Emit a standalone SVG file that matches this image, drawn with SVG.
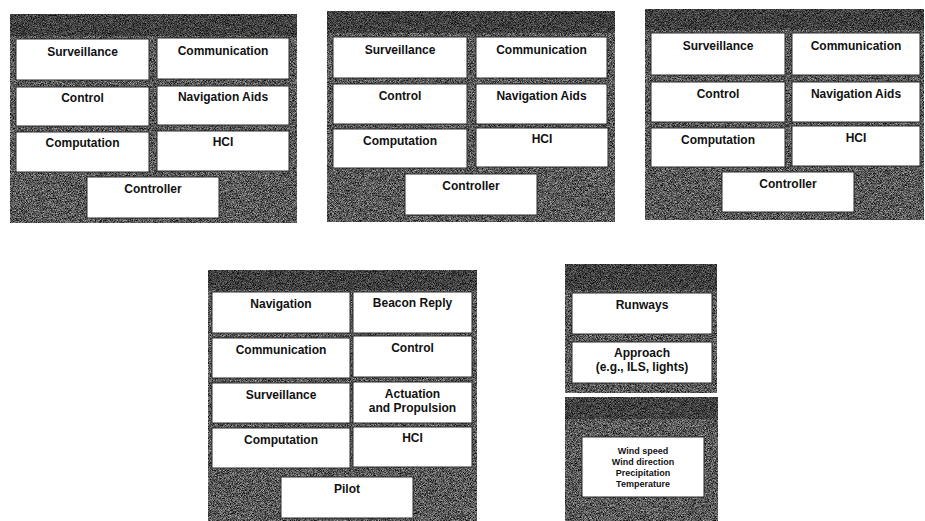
<svg xmlns="http://www.w3.org/2000/svg" width="925" height="521" viewBox="0 0 925 521">
  <defs>
    <!-- halftone-like grain for the grey panels -->
    <filter id="grain" x="0" y="0" width="100%" height="100%" color-interpolation-filters="sRGB">
      <feTurbulence type="fractalNoise" baseFrequency="1.4" numOctaves="1" seed="7" result="n"/>
      <feColorMatrix in="n" type="matrix" values="1.3 0 0 0 -0.3  1.3 0 0 0 -0.3  1.3 0 0 0 -0.3  0 0 0 0 1" result="g"/>
      <feComposite in="g" in2="SourceGraphic" operator="in"/>
    </filter>
    <style>
      .panel { fill: #555555; filter: url(#grain); }
      .band { fill: #000000; opacity: 0.28; }
      .cell { fill: #ffffff; stroke: #2a2a2a; stroke-width: 1; }
      .lbl { font-family: "Liberation Sans", Arial, sans-serif; font-weight: bold; font-size: 12px; fill: #111; text-anchor: middle; }
      .small { font-size: 9px; }
    </style>
  </defs>
  <rect width="925" height="521" fill="#ffffff"/>

  <!-- Ground station 1 -->
  <g id="station1">
    <rect class="panel" x="10" y="14" width="287" height="209"/>
    <rect class="band" x="10" y="14" width="287" height="22"/>
    <g id="s1-surveillance"><rect class="cell" x="16" y="39" width="133" height="41"/><text class="lbl" x="82.5" y="56">Surveillance</text></g>
    <g id="s1-communication"><rect class="cell" x="157" y="38" width="132" height="41"/><text class="lbl" x="223" y="55">Communication</text></g>
    <g id="s1-control"><rect class="cell" x="16" y="87" width="133" height="39"/><text class="lbl" x="82.5" y="102">Control</text></g>
    <g id="s1-navaids"><rect class="cell" x="157" y="86" width="132" height="39"/><text class="lbl" x="223" y="101">Navigation Aids</text></g>
    <g id="s1-computation"><rect class="cell" x="16" y="132" width="133" height="40"/><text class="lbl" x="82.5" y="147">Computation</text></g>
    <g id="s1-hci"><rect class="cell" x="157" y="131" width="132" height="40"/><text class="lbl" x="223" y="146">HCI</text></g>
    <g id="s1-controller"><rect class="cell" x="87" y="177" width="132" height="41"/><text class="lbl" x="153" y="193">Controller</text></g>
  </g>

  <!-- Ground station 2 -->
  <g id="station2">
    <rect class="panel" x="327" y="11" width="288" height="211"/>
    <rect class="band" x="327" y="11" width="288" height="22"/>
    <g id="s2-surveillance"><rect class="cell" x="333" y="37" width="134" height="41"/><text class="lbl" x="400" y="54">Surveillance</text></g>
    <g id="s2-communication"><rect class="cell" x="476" y="37" width="131" height="41"/><text class="lbl" x="541.5" y="54">Communication</text></g>
    <g id="s2-control"><rect class="cell" x="333" y="84" width="134" height="40"/><text class="lbl" x="400" y="100">Control</text></g>
    <g id="s2-navaids"><rect class="cell" x="476" y="84" width="131" height="40"/><text class="lbl" x="541.5" y="100">Navigation Aids</text></g>
    <g id="s2-computation"><rect class="cell" x="333" y="129" width="134" height="39"/><text class="lbl" x="400" y="145">Computation</text></g>
    <g id="s2-hci"><rect class="cell" x="476" y="128" width="132" height="39"/><text class="lbl" x="542" y="143">HCI</text></g>
    <g id="s2-controller"><rect class="cell" x="405" y="174" width="132" height="41"/><text class="lbl" x="471" y="190">Controller</text></g>
  </g>

  <!-- Ground station 3 -->
  <g id="station3">
    <rect class="panel" x="645" y="9" width="279" height="211"/>
    <rect class="band" x="645" y="9" width="279" height="21"/>
    <g id="s3-surveillance"><rect class="cell" x="651" y="33" width="134" height="42"/><text class="lbl" x="718" y="50">Surveillance</text></g>
    <g id="s3-communication"><rect class="cell" x="792" y="33" width="128" height="42"/><text class="lbl" x="856" y="50">Communication</text></g>
    <g id="s3-control"><rect class="cell" x="651" y="82" width="134" height="40"/><text class="lbl" x="718" y="98">Control</text></g>
    <g id="s3-navaids"><rect class="cell" x="792" y="82" width="128" height="40"/><text class="lbl" x="856" y="98">Navigation Aids</text></g>
    <g id="s3-computation"><rect class="cell" x="651" y="128" width="134" height="39"/><text class="lbl" x="718" y="144">Computation</text></g>
    <g id="s3-hci"><rect class="cell" x="792" y="126" width="128" height="40"/><text class="lbl" x="856" y="142">HCI</text></g>
    <g id="s3-controller"><rect class="cell" x="722" y="172" width="132" height="40"/><text class="lbl" x="788" y="188">Controller</text></g>
  </g>

  <!-- Aircraft -->
  <g id="aircraft">
    <rect class="panel" x="208" y="270" width="269" height="251"/>
    <rect class="band" x="208" y="270" width="269" height="20"/>
    <g id="a-navigation"><rect class="cell" x="212" y="292" width="138" height="41"/><text class="lbl" x="281" y="308">Navigation</text></g>
    <g id="a-beacon"><rect class="cell" x="353" y="292" width="119" height="41"/><text class="lbl" x="412.5" y="307">Beacon Reply</text></g>
    <g id="a-communication"><rect class="cell" x="212" y="338" width="138" height="40"/><text class="lbl" x="281" y="354">Communication</text></g>
    <g id="a-control"><rect class="cell" x="353" y="336" width="119" height="41"/><text class="lbl" x="412.5" y="352">Control</text></g>
    <g id="a-surveillance"><rect class="cell" x="212" y="383" width="138" height="40"/><text class="lbl" x="281" y="399">Surveillance</text></g>
    <g id="a-actuation"><rect class="cell" x="353" y="382" width="119" height="41"/><text class="lbl" x="412.5" y="398">Actuation</text><text class="lbl" x="412.5" y="412">and Propulsion</text></g>
    <g id="a-computation"><rect class="cell" x="212" y="428" width="138" height="40"/><text class="lbl" x="281" y="444">Computation</text></g>
    <g id="a-hci"><rect class="cell" x="353" y="427" width="119" height="40"/><text class="lbl" x="412.5" y="442">HCI</text></g>
    <g id="a-pilot"><rect class="cell" x="281" y="477" width="132" height="41"/><text class="lbl" x="347" y="493">Pilot</text></g>
  </g>

  <!-- Airport -->
  <g id="airport">
    <rect class="panel" x="565" y="264" width="152" height="129"/>
    <rect class="band" x="565" y="264" width="152" height="26"/>
    <g id="ap-runways"><rect class="cell" x="572" y="293" width="140" height="41"/><text class="lbl" x="642" y="309">Runways</text></g>
    <g id="ap-approach"><rect class="cell" x="572" y="342" width="140" height="41"/><text class="lbl" x="642" y="357">Approach</text><text class="lbl" x="642" y="371">(e.g., ILS, lights)</text></g>
  </g>

  <!-- Weather -->
  <g id="weather">
    <rect class="panel" x="565" y="397" width="153" height="124"/>
    <rect class="band" x="565" y="397" width="153" height="22"/>
    <g id="w-conditions">
      <rect class="cell" x="582" y="437" width="122" height="60"/>
      <text class="lbl small" x="643" y="454">Wind speed</text>
      <text class="lbl small" x="643" y="465">Wind direction</text>
      <text class="lbl small" x="643" y="476">Precipitation</text>
      <text class="lbl small" x="643" y="487">Temperature</text>
    </g>
  </g>

  <g id="connectors"/>
</svg>
